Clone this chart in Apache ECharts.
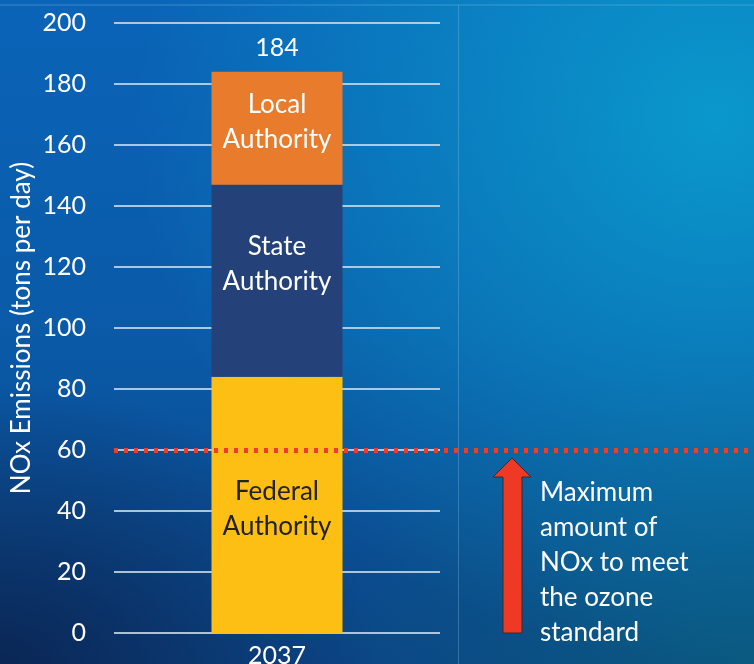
<!DOCTYPE html>
<html>
<head>
<meta charset="utf-8">
<script src="https://cdn.jsdelivr.net/npm/echarts@6/dist/echarts.min.js"></script>
<style>
  html, body { margin: 0; padding: 0; }
  body {
    width: 754px; height: 664px; overflow: hidden;
    background:
      radial-gradient(ellipse 380px 280px at 0% 100%, rgba(10,35,80,0.9), rgba(10,35,80,0) 100%),
      radial-gradient(ellipse 580px 540px at 95% 18%, rgba(10,155,205,0.95), rgba(10,150,200,0) 100%),
      radial-gradient(ellipse 420px 320px at 100% 100%, rgba(10,92,128,0.9), rgba(10,92,128,0) 100%),
      linear-gradient(180deg, #0a64b8 0%, #0a5aa8 50%, #0b4686 100%);
  }
  #chart { width: 754px; height: 664px; }
</style>
</head>
<body>
<div id="chart"></div>
<script>
// ── data ──
const years = ['2037']
const federal = [84]
const state = [63]
const local = [37]
const standardLimit = 60
const yTicks = { min: 0, max: 200, interval: 20 }
const annotation = 'Maximum\namount of\nNOx to meet\nthe ozone\nstandard'

const totals = years.map((_, i) => federal[i] + state[i] + local[i])

const FONT = 'Lato, "Noto Sans", sans-serif'
const chart = echarts.init(document.getElementById('chart'), null, { renderer: 'canvas' })

function segLabel(color, dy) {
  return {
    show: true,
    position: 'inside',
    offset: [0, dy],
    color,
    fontFamily: FONT,
    fontSize: 26,
    lineHeight: 35,
    formatter: (p) => p.seriesName.replace(' ', '\n')
  }
}

chart.setOption({
  backgroundColor: 'transparent',
  animation: false,
  grid: [
    { left: 114, right: 314, top: 23, bottom: 31, outerBoundsMode: 'none' },
    { left: 114, right: 0, top: 23, bottom: 31, outerBoundsMode: 'none' }
  ],
  xAxis: [
    {
      type: 'category',
      gridIndex: 0,
      data: years,
      axisLine: { show: false },
      axisTick: { show: false },
      axisLabel: { color: '#fff', fontFamily: FONT, fontSize: 25, margin: 10 }
    },
    { type: 'category', gridIndex: 1, data: years, show: false }
  ],
  yAxis: [
    {
      type: 'value',
      gridIndex: 0,
      min: yTicks.min,
      max: yTicks.max,
      interval: yTicks.interval,
      name: 'NOx Emissions (tons per day)',
      nameLocation: 'middle',
      nameGap: 79,
      nameTextStyle: { color: '#fff', fontFamily: FONT, fontSize: 26 },
      axisLine: { show: false },
      axisTick: { show: false },
      axisLabel: { color: '#fff', fontFamily: FONT, fontSize: 25, margin: 28 },
      splitLine: { lineStyle: { color: 'rgba(200,218,235,0.85)', width: 2 } }
    },
    {
      type: 'value',
      gridIndex: 1,
      min: yTicks.min,
      max: yTicks.max,
      show: false,
      splitLine: { show: false }
    }
  ],
  series: [
    {
      name: 'Federal Authority',
      type: 'bar',
      stack: 'nox',
      data: federal,
      barWidth: 131,
      itemStyle: { color: '#fdbf14' },
      label: segLabel('#222', 4)
    },
    {
      name: 'State Authority',
      type: 'bar',
      stack: 'nox',
      data: state,
      barWidth: 131,
      itemStyle: { color: '#24417a' },
      label: segLabel('#fff', -17)
    },
    {
      name: 'Local Authority',
      type: 'bar',
      stack: 'nox',
      data: local,
      barWidth: 131,
      itemStyle: { color: '#e87b2c' },
      label: segLabel('#fff', -6)
    },
    {
      name: 'Total',
      type: 'bar',
      stack: 'nox',
      data: years.map(() => 0),
      barWidth: 131,
      label: {
        show: true,
        position: 'top',
        distance: 11,
        color: '#fff',
        fontFamily: FONT,
        fontSize: 25,
        formatter: (p) => String(totals[p.dataIndex])
      }
    },
    {
      name: 'Standard',
      type: 'line',
      xAxisIndex: 1,
      yAxisIndex: 1,
      data: years.map(() => null),
      symbol: 'none',
      markLine: {
        silent: true,
        symbol: 'none',
        label: { show: false },
        lineStyle: { color: '#f03c2a', width: 5, type: [4, 6] },
        data: [{ yAxis: standardLimit }]
      }
    }
  ],
  graphic: [
    // faint slide frame lines
    { type: 'line', shape: { x1: 0, y1: 5, x2: 754, y2: 5 }, style: { stroke: 'rgba(150,200,240,0.35)', lineWidth: 1 }, silent: true },
    { type: 'line', shape: { x1: 458.5, y1: 5, x2: 458.5, y2: 664 }, style: { stroke: 'rgba(150,200,240,0.3)', lineWidth: 1 }, silent: true },
    // arrow pointing up to the limit line
    {
      type: 'polygon',
      shape: { points: [[512, 458], [531, 477], [522, 477], [522, 633], [503, 633], [503, 477], [493, 477]] },
      style: { fill: '#ee3a24', stroke: '#3a2a2a', lineWidth: 1 },
      silent: true
    },
    {
      type: 'text',
      left: 540,
      top: 475,
      style: { text: annotation, fill: '#fff', font: '26px ' + FONT, lineHeight: 35 },
      silent: true
    }
  ]
})
</script>
</body>
</html>
